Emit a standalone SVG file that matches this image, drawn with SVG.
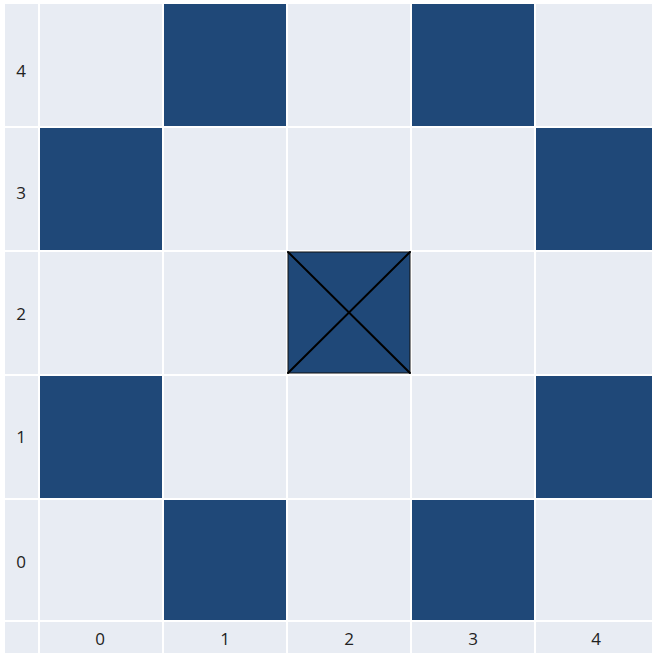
<svg xmlns="http://www.w3.org/2000/svg" width="652" height="656" viewBox="0 0 652 656">
<style>
.l{fill:#e8ecf3}
.d{fill:#1f4878}
.t{font-family:"Open Sans","Liberation Sans",sans-serif;font-size:17px;fill:#222;text-anchor:middle;dominant-baseline:central}
</style>
<rect width="652" height="656" fill="#ffffff"/>
<g id="axis-y">
<rect class="l" x="5" y="4" width="33" height="122"/>
<rect class="l" x="5" y="128" width="33" height="122"/>
<rect class="l" x="5" y="252" width="33" height="122"/>
<rect class="l" x="5" y="376" width="33" height="122"/>
<rect class="l" x="5" y="500" width="33" height="120"/>
<rect class="l" x="5" y="622" width="33" height="31"/>
<text class="t" x="21" y="70">4</text>
<text class="t" x="21" y="192">3</text>
<text class="t" x="21" y="313">2</text>
<text class="t" x="21" y="436">1</text>
<text class="t" x="21" y="561">0</text>
</g>
<g id="axis-x">
<rect class="l" x="40" y="622" width="122" height="31"/>
<rect class="l" x="164" y="622" width="122" height="31"/>
<rect class="l" x="288" y="622" width="122" height="31"/>
<rect class="l" x="412" y="622" width="122" height="31"/>
<rect class="l" x="536" y="622" width="116" height="31"/>
<text class="t" x="100" y="638">0</text>
<text class="t" x="225" y="638">1</text>
<text class="t" x="349" y="638">2</text>
<text class="t" x="473" y="638">3</text>
<text class="t" x="596" y="638">4</text>
</g>
<g id="row4">
<rect class="l" x="40" y="4" width="122" height="122"/>
<rect class="d" x="164" y="4" width="122" height="122"/>
<rect class="l" x="288" y="4" width="122" height="122"/>
<rect class="d" x="412" y="4" width="122" height="122"/>
<rect class="l" x="536" y="4" width="116" height="122"/>
</g>
<g id="row3">
<rect class="d" x="40" y="128" width="122" height="122"/>
<rect class="l" x="164" y="128" width="122" height="122"/>
<rect class="l" x="288" y="128" width="122" height="122"/>
<rect class="l" x="412" y="128" width="122" height="122"/>
<rect class="d" x="536" y="128" width="116" height="122"/>
</g>
<g id="row2">
<rect class="l" x="40" y="252" width="122" height="122"/>
<rect class="l" x="164" y="252" width="122" height="122"/>
<rect class="l" x="412" y="252" width="122" height="122"/>
<rect class="l" x="536" y="252" width="116" height="122"/>
</g>
<g id="center">
<rect class="d" x="288" y="252" width="122" height="121" stroke="#111" stroke-width="1"/>
</g>
<g id="row1">
<rect class="d" x="40" y="376" width="122" height="122"/>
<rect class="l" x="164" y="376" width="122" height="122"/>
<rect class="l" x="288" y="376" width="122" height="122"/>
<rect class="l" x="412" y="376" width="122" height="122"/>
<rect class="d" x="536" y="376" width="116" height="122"/>
</g>
<g id="row0">
<rect class="l" x="40" y="500" width="122" height="120"/>
<rect class="d" x="164" y="500" width="122" height="120"/>
<rect class="l" x="288" y="500" width="122" height="120"/>
<rect class="d" x="412" y="500" width="122" height="120"/>
<rect class="l" x="536" y="500" width="116" height="120"/>
</g>
<g id="connectors" stroke="#000" stroke-width="2" stroke-linecap="round">
<line x1="288" y1="252" x2="410" y2="373"/>
<line x1="410" y1="252" x2="288" y2="373"/>
</g>
</svg>
